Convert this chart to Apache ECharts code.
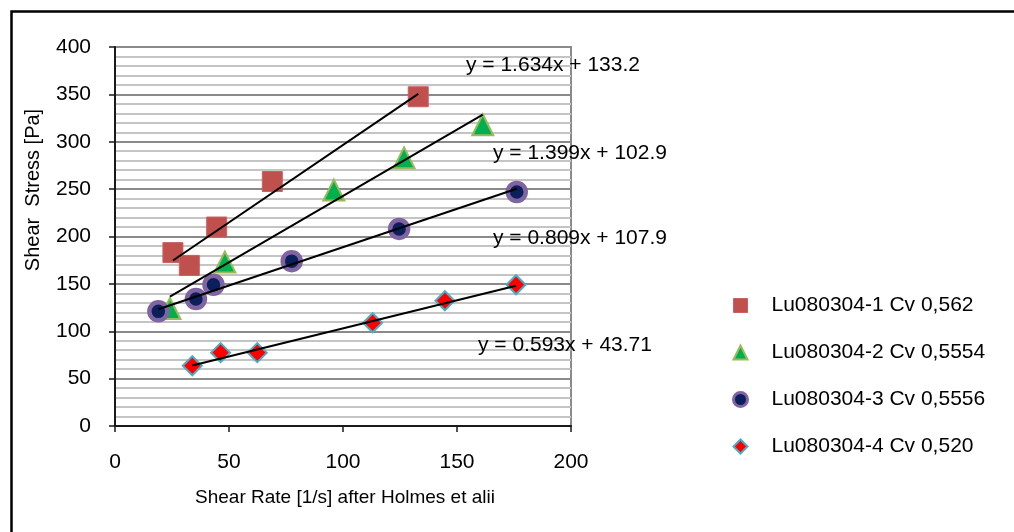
<!DOCTYPE html>
<html>
<head>
<meta charset="utf-8">
<script src="https://cdn.jsdelivr.net/npm/echarts@6/dist/echarts.min.js"></script>
<style>
  html, body { margin: 0; padding: 0; background: #ffffff; }
  #chart { width: 1014px; height: 532px; }
</style>
</head>
<body>
<div id="chart"></div>
<script>
// Shear rate [1/s] and shear stress [Pa] per sample
const seriesNames = ['Lu080304-1 Cv 0,562', 'Lu080304-2 Cv 0,5554', 'Lu080304-3 Cv 0,5556', 'Lu080304-4 Cv 0,520'];
const shearRate1 = [25.4, 32.6, 44.6, 69.0, 133.0];
const stress1 = [183, 169.5, 210, 258, 347.5];
const shearRate2 = [24.1, 48.2, 96, 126.8, 161.3];
const stress2 = [124, 173, 249, 283, 318];
const shearRate3 = [19, 35.5, 43.2, 77.5, 124.6, 176.2];
const stress3 = [121, 134, 149, 174, 208, 247];
const shearRate4 = [33.9, 46.3, 62.4, 113, 144.7, 175.9];
const stress4 = [63.6, 77.4, 77.4, 109, 132.2, 149.1];

// Linear trendlines y = a*x + b
const trendSlopes = [1.634, 1.399, 0.809, 0.593];
const trendIntercepts = [133.2, 102.9, 107.9, 43.71];

const xTicks = [0, 50, 100, 150, 200];
const yTicks = [0, 50, 100, 150, 200, 250, 300, 350, 400];

const rates = [shearRate1, shearRate2, shearRate3, shearRate4];
const stresses = [stress1, stress2, stress3, stress4];

const FONT = '"Liberation Sans", Arial, sans-serif';

const markerStyles = [
  { symbol: 'rect', symbolSize: 20, itemStyle: { color: '#C0504D', borderColor: '#C9615E', borderWidth: 1, opacity: 1 } },
  { symbol: 'triangle', symbolSize: 21, itemStyle: { color: '#00B050', borderColor: '#9BBB59', borderWidth: 2, opacity: 1 } },
  { symbol: 'circle', symbolSize: 18, itemStyle: { color: '#0A1F5C', borderColor: '#8064A2', borderWidth: 4.5, opacity: 1 } },
  { symbol: 'diamond', symbolSize: 19, itemStyle: { color: '#FF0000', borderColor: '#4BACC6', borderWidth: 2, opacity: 1 } }
];

const legendIcons = [
  { icon: 'rect', itemStyle: { color: '#C0504D', borderColor: '#C9615E', borderWidth: 1, opacity: 1 } },
  { icon: 'triangle', itemStyle: { color: '#00B050', borderColor: '#9BBB59', borderWidth: 2, opacity: 1 } },
  { icon: 'circle', itemStyle: { color: '#0A1F5C', borderColor: '#8064A2', borderWidth: 3, opacity: 1 } },
  { icon: 'diamond', itemStyle: { color: '#FF0000', borderColor: '#4BACC6', borderWidth: 2, opacity: 1 } }
];

// Trendline equation labels: left edge / vertical centre in pixels
const trendLabelPos = [[466, 65], [493, 153], [493, 238], [478, 345]];

const series = [];
rates.forEach((xs, i) => {
  series.push(Object.assign({
    name: seriesNames[i],
    type: 'scatter',
    z: 3,
    data: xs.map((x, k) => [x, stresses[i][k]]),
    emphasis: { disabled: true }
  }, markerStyles[i]));
});
rates.forEach((xs, i) => {
  const x0 = Math.min.apply(null, xs);
  const x1 = Math.max.apply(null, xs);
  series.push({
    type: 'line',
    z: 5,
    silent: true,
    symbol: 'none',
    lineStyle: { color: '#000000', width: 2 },
    data: [[x0, trendSlopes[i] * x0 + trendIntercepts[i]], [x1, trendSlopes[i] * x1 + trendIntercepts[i]]]
  });
});

const graphics = [
  {
    type: 'rect', left: 9, top: 9, silent: true,
    shape: { width: 1100, height: 600 },
    style: { fill: 'none', stroke: '#000000', lineWidth: 2.5 }
  },
  {
    type: 'text', silent: true,
    x: 33, y: 190, rotation: Math.PI / 2,
    style: {
      text: 'Shear  Stress [Pa]', font: '20px ' + FONT, fill: '#000000',
      align: 'center', verticalAlign: 'middle'
    }
  },
  {
    type: 'text', silent: true,
    x: 345, y: 498,
    style: {
      text: 'Shear Rate [1/s] after Holmes et alii', font: '19px ' + FONT, fill: '#000000',
      align: 'center', verticalAlign: 'middle'
    }
  }
];
trendLabelPos.forEach((p, i) => {
  graphics.push({
    type: 'text', silent: true, z: 10,
    x: p[0], y: p[1],
    style: {
      text: 'y = ' + trendSlopes[i] + 'x + ' + trendIntercepts[i],
      font: '21px ' + FONT, fill: '#000000',
      align: 'left', verticalAlign: 'middle'
    }
  });
});

const chart = echarts.init(document.getElementById('chart'), null, { renderer: 'canvas' });
chart.setOption({
  backgroundColor: '#ffffff',
  animation: false,
  textStyle: { fontFamily: FONT },
  grid: {
    left: 115, right: 443, top: 47, bottom: 106,
    show: true, borderColor: '#8A8A8A', borderWidth: 2, backgroundColor: '#ffffff'
  },
  xAxis: {
    type: 'value',
    min: xTicks[0], max: xTicks[xTicks.length - 1], interval: xTicks[1] - xTicks[0],
    axisLine: { show: true, onZero: false, lineStyle: { color: '#1a1a1a', width: 2 } },
    axisTick: { show: true, inside: false, length: 6, lineStyle: { color: '#1a1a1a', width: 1.5 } },
    axisLabel: { fontSize: 21, color: '#000000', margin: 26, fontFamily: FONT },
    splitLine: { show: false }
  },
  yAxis: {
    type: 'value',
    min: yTicks[0], max: yTicks[yTicks.length - 1], interval: yTicks[1] - yTicks[0],
    axisLine: { show: true, onZero: false, lineStyle: { color: '#1a1a1a', width: 2 } },
    axisTick: { show: true, inside: false, length: 6, lineStyle: { color: '#1a1a1a', width: 1.5 } },
    axisLabel: { fontSize: 21, color: '#000000', margin: 24, fontFamily: FONT },
    splitLine: { show: true, lineStyle: { color: '#8A8A8A', width: 2 } },
    minorTick: { show: false, splitNumber: 5 },
    minorSplitLine: { show: true, lineStyle: { color: '#C4C4C4', width: 2 } }
  },
  legend: {
    orient: 'vertical',
    left: 727, top: 290,
    itemWidth: 14, itemHeight: 14, itemGap: 26,
    selectedMode: false,
    textStyle: { fontSize: 21, color: '#000000', fontFamily: FONT, padding: [0, 0, 0, 19] },
    data: seriesNames.map((n, i) => Object.assign({ name: n }, legendIcons[i]))
  },
  graphic: graphics,
  series: series
});
</script>
</body>
</html>
